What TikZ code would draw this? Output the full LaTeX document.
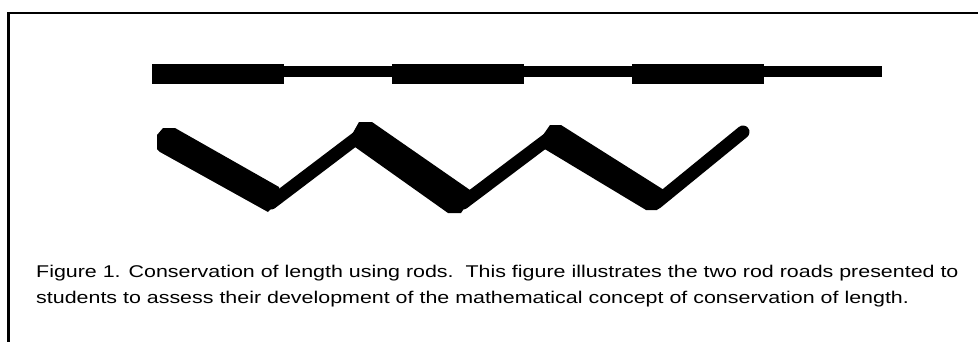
\documentclass[tikz,border=0pt]{standalone}
\usepackage{fontspec}
\setmainfont{Liberation Sans}
\newfontfamily\capfont[FakeStretch=1.26]{Liberation Sans}
\usetikzlibrary{calc}

\tikzset{
    thinrod/.style={line width=13pt, line cap=round},
}

\begin{document}
\begin{tikzpicture}[x=1pt, y=-1pt]
    \useasboundingbox (0,0) rectangle (978,341);
    \clip (0,0) rectangle (978,341);
    \draw[line width=2.5pt] (8.5,13) rectangle (1000,400);

    % straight road
    \fill (152,64) rectangle (284,84);
    \fill (284,66) rectangle (392,77);
    \fill (392,64) rectangle (524,84);
    \fill (524,66) rectangle (632,77);
    \fill (632,64) rectangle (764,84);
    \fill (764,66) rectangle (882,77);

    % zigzag road
    \coordinate (B) at (271,203);
    \coordinate (C) at (362,134);
    \coordinate (D) at (463,203);
    \coordinate (E) at (552,136);
    \coordinate (F) at (656,203);
    \coordinate (G) at (743,132);

    \draw[thinrod] (B) -- (C);
    \draw[thinrod] (D) -- (E);
    \draw[thinrod] (F) -- (G);
    \fill (157,135) -- (163,128) -- (175,128) -- (279,187) -- (279,200)
        -- (268,212) -- (160,152) -- (157,149) -- cycle;
    \fill (350,138) -- (359,122) -- (372,122) -- (470,190) -- (467,204)
        -- (461,213) -- (448,213) -- (355,147) -- cycle;
    \fill (541,138) -- (550,125) -- (561,125) -- (664,190) -- (661,204)
        -- (657,210) -- (646,210) -- (543,148) -- cycle;

    \node[anchor=base west, inner sep=0pt, align=left,
        font=\capfont\fontsize{17}{26}\selectfont] (caption) at (36,303)
        {Figure 1. Conservation of length using rods.\ \ This figure illustrates the two rod roads presented to\\
        students to assess their development of the mathematical concept of conservation of length.};
\end{tikzpicture}
\end{document}
